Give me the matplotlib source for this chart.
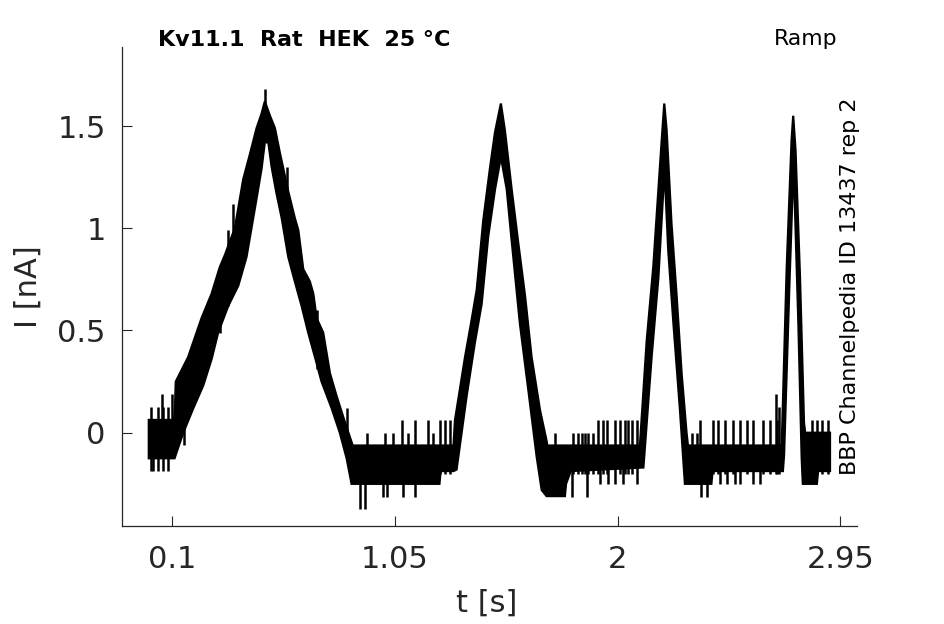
import numpy as np
import matplotlib
matplotlib.use("Agg")
import matplotlib.pyplot as plt

# ---- data (t in s, I in nA) ----
# upper edge of the recorded trace band, left to right
upper_t = [0.000, 0.108, 0.112, 0.115, 0.168, 0.225, 0.268, 0.303, 0.325, 0.367, 0.403, 0.431, 0.460, 0.481, 0.495,
           0.517, 0.538, 0.559, 0.595, 0.623, 0.638, 0.659, 0.687, 0.702, 0.716, 0.744, 0.773, 0.801, 0.837, 0.870,
           1.300,
           1.306, 1.349, 1.377, 1.399, 1.427, 1.455, 1.477, 1.502,
           1.519, 1.548, 1.576, 1.605, 1.633, 1.669, 1.697, 1.700,
           2.095,
           2.124, 2.152, 2.174, 2.191, 2.199,
           2.209, 2.230, 2.252, 2.273, 2.294, 2.300,
           2.700,
           2.721, 2.742, 2.749,
           2.759, 2.778, 2.795, 2.800, 2.906]
upper_i = [0.0625, 0.0625, 0.125, 0.25, 0.37, 0.56, 0.68, 0.81, 0.87, 1.00, 1.24, 1.36, 1.49, 1.56, 1.62,
           1.55, 1.49, 1.37, 1.18, 1.05, 0.99, 0.80, 0.74, 0.68, 0.56, 0.49, 0.29, 0.18, 0.05, -0.0625,
           -0.0625,
           0.06, 0.37, 0.55, 0.70, 1.04, 1.29, 1.47, 1.61,
           1.48, 1.19, 0.93, 0.67, 0.37, 0.11, -0.04, -0.0625,
           -0.0625,
           0.45, 0.81, 1.19, 1.48, 1.61,
           1.48, 1.02, 0.665, 0.29, 0.0, -0.0625,
           -0.0625,
           0.80, 1.43, 1.55,
           1.38, 0.76, 0.05, 0.0, 0.0]

# lower edge of the recorded trace band, left to right
lower_t = [0.000, 0.110, 0.147, 0.190, 0.232, 0.268, 0.296, 0.339, 0.382, 0.417, 0.453, 0.481, 0.495,
           0.510, 0.524, 0.545, 0.567, 0.595, 0.623, 0.652, 0.680, 0.709, 0.737, 0.780, 0.815, 0.844, 0.865,
           1.240, 1.245, 1.300,
           1.313, 1.356, 1.391, 1.420, 1.448, 1.477, 1.502,
           1.527, 1.548, 1.583, 1.619, 1.655, 1.676, 1.697,
           1.775, 1.780, 1.800, 2.110,
           2.145, 2.174, 2.195, 2.202,
           2.216, 2.238, 2.266, 2.287,
           2.400, 2.405, 2.705, 2.710,
           2.733, 2.749, 2.752,
           2.771, 2.785, 2.790, 2.850, 2.855, 2.906]
lower_i = [-0.125, -0.125, 0.0, 0.12, 0.23, 0.36, 0.49, 0.62, 0.72, 0.86, 1.10, 1.29, 1.42,
           1.42, 1.30, 1.17, 1.05, 0.86, 0.74, 0.62, 0.49, 0.37, 0.25, 0.12, 0.0, -0.125, -0.25,
           -0.25, -0.1875, -0.1875,
           -0.18, 0.18, 0.44, 0.63, 0.96, 1.19, 1.35,
           1.19, 0.94, 0.535, 0.21, -0.12, -0.28, -0.31,
           -0.31, -0.25, -0.1875, -0.17,
           0.37, 0.76, 1.19, 1.24,
           0.89, 0.535, 0.11, -0.25,
           -0.25, -0.1875, -0.1875, -0.11,
           0.73, 1.27, 1.27,
           0.535, -0.12, -0.25, -0.25, -0.1875, -0.1875]

# isolated noise excursions (vertical strokes): time, low end, high end
spike_t = [0.010, 0.019, 0.040, 0.055, 0.062, 0.083, 0.097,
           0.150, 0.197, 0.303, 0.339, 0.358, 0.495, 0.588, 0.716, 0.844,
           0.901, 0.922, 0.929, 1.000, 1.007, 1.015, 1.043, 1.079, 1.086, 1.107, 1.135, 1.192, 1.213,
           1.242, 1.263, 1.285,
           1.733, 1.804, 1.811, 1.832, 1.847, 1.861, 1.868, 1.875, 1.896, 1.917, 1.925, 1.939, 1.953,
           1.961, 1.989, 2.010, 2.024, 2.031, 2.045, 2.060, 2.081,
           2.316, 2.337, 2.351, 2.356, 2.380, 2.408, 2.429, 2.435, 2.458, 2.465, 2.493, 2.500, 2.522,
           2.550, 2.579, 2.607, 2.621, 2.650, 2.676, 2.678, 2.690,
           2.828, 2.849, 2.870, 2.899]
spike_lo = [-0.1875, -0.1875, -0.1875, -0.125, -0.1875, -0.1875, -0.125,
            -0.06, 0.30, 0.49, 0.62, 0.85, 1.45, 1.00, 0.31, -0.10,
            -0.375, -0.375, -0.20, -0.3125, -0.20, -0.3125, -0.20, -0.20, -0.3125, -0.20, -0.3125, -0.20, -0.20,
            -0.20, -0.20, -0.20,
            -0.20, -0.3125, -0.20, -0.20, -0.20, -0.20, -0.3125, -0.20, -0.20, -0.20, -0.25, -0.20, -0.20,
            -0.25, -0.25, -0.20, -0.25, -0.20, -0.20, -0.20, -0.25,
            -0.20, -0.20, -0.20, -0.3125, -0.3125, -0.20, -0.20, -0.25, -0.20, -0.25, -0.20, -0.25, -0.25,
            -0.20, -0.25, -0.25, -0.20, -0.20, -0.20, -0.20, -0.20,
            -0.20, -0.20, -0.20, -0.20]
spike_hi = [0.125, 0.0625, 0.125, 0.1875, 0.125, 0.125, 0.1875,
            0.10, 0.43, 0.75, 0.99, 1.12, 1.68, 1.30, 0.60, 0.12,
            -0.10, -0.10, 0.0, -0.10, 0.0, -0.10, 0.0, 0.0625, -0.10, 0.0, 0.0625, 0.0625, 0.0,
            0.0625, 0.0625, 0.0625,
            0.0, -0.10, 0.0, 0.0, 0.0, 0.0, -0.10, 0.0, 0.0, 0.0625, -0.10, 0.0625, 0.0625,
            -0.10, 0.0625, 0.0625, -0.10, 0.0625, 0.0625, 0.0625, 0.0625,
            0.0, 0.0, 0.0625, -0.10, -0.10, 0.0625, 0.0625, -0.10, 0.0625, -0.10, 0.0625, -0.10, 0.0625,
            0.0625, 0.0625, -0.10, 0.0625, 0.0625, 0.1875, 0.0625, 0.125,
            0.0625, 0.0625, 0.0625, 0.0625]

x_ticks = [0.1, 1.05, 2, 2.95]
x_tick_labels = ["0.1", "1.05", "2", "2.95"]
y_ticks = [0, 0.5, 1, 1.5]
y_tick_labels = ["0", "0.5", "1", "1.5"]

title_text = "Kv11.1  Rat  HEK  25 °C"
protocol_text = "Ramp"
source_text = "BBP Channelpedia ID 13437 rep 2"

# ---- figure ----
plt.rcParams['font.family'] = ['DejaVu Sans']
fig = plt.figure(figsize=(9.45, 6.24), dpi=100)
ax = fig.add_axes([0.1294, 0.1571, 0.7772, 0.7681])

poly_t = np.concatenate([upper_t, lower_t[::-1]])
poly_i = np.concatenate([upper_i, lower_i[::-1]])
ax.fill(poly_t, poly_i, facecolor='black', edgecolor='black', linewidth=1.6, joinstyle='miter')
ax.vlines(spike_t, spike_lo, spike_hi, colors='black', linewidth=1.8)

ax.set_xlim(-0.113, 3.020)
ax.set_ylim(-0.456, 1.888)
ax.set_xticks(x_ticks)
ax.set_xticklabels(x_tick_labels)
ax.set_yticks(y_ticks)
ax.set_yticklabels(y_tick_labels)

gray = '#262626'
for side in ['top', 'right']:
    ax.spines[side].set_visible(False)
for side in ['left', 'bottom']:
    ax.spines[side].set_color(gray)
    ax.spines[side].set_linewidth(0.9)
ax.tick_params(direction='in', length=7, width=0.8, colors=gray, labelsize=22)
ax.tick_params(axis='x', pad=14)
ax.tick_params(axis='y', pad=12)

fig.text(487 / 945, 1 - 603 / 624, "t [s]", fontsize=22, color=gray, ha='center', va='center')
fig.text(28 / 945, 1 - 287 / 624, "I [nA]", fontsize=22, color=gray, ha='center', va='center', rotation=90)

fig.text(158 / 945, 1 - 40 / 624, title_text, fontsize=16, fontweight='bold', color='black', ha='left', va='center')
fig.text(838 / 945, 1 - 39 / 624, protocol_text, fontsize=15.8, color='black', ha='right', va='center')
fig.text(850 / 945, 1 - 286 / 624, source_text, fontsize=16, color='black', ha='center', va='center', rotation=90)

fig.savefig("out.png", dpi=100)
